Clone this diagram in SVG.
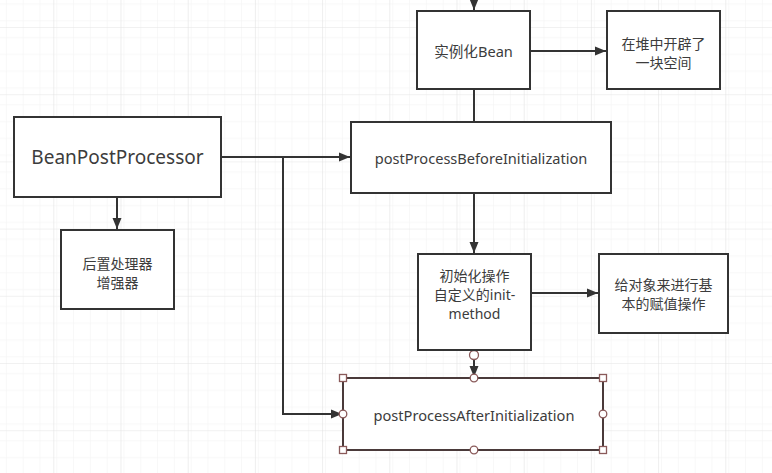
<svg xmlns="http://www.w3.org/2000/svg" width="772" height="473" viewBox="0 0 772 473">
  <style>
    .box { fill: #ffffff; stroke: #333333; stroke-width: 2; }
    .sel { fill: #ffffff; stroke: #4a3a3a; stroke-width: 2; }
    .edge { fill: none; stroke: #333333; stroke-width: 2; }
    .t { font-family: "Noto Sans", "Noto Sans CJK SC", sans-serif; font-size: 14px; fill: #3c3c3c; text-anchor: middle; dominant-baseline: central; }
    .w { font-size: 14.6px; }
    .big { font-size: 19px; }
    .hsq { fill: #ffffff; stroke: #8a5a5a; stroke-width: 1.3; }
    .hci { fill: #ffffff; stroke: #8a5a5a; stroke-width: 1.3; }
  </style>
  <defs>
    <pattern id="minor" width="16.8" height="16.8" patternUnits="userSpaceOnUse" x="-13.9" y="-40.2">
      <path d="M 16.8 0 L 0 0 0 16.8" fill="none" stroke="#f1f1f1" stroke-width="1"/>
    </pattern>
    <pattern id="major" width="67.2" height="67.2" patternUnits="userSpaceOnUse" x="-13.9" y="-40.2">
      <rect width="67.2" height="67.2" fill="url(#minor)"/>
      <path d="M 67.2 0 L 0 0 0 67.2" fill="none" stroke="#e3e3e3" stroke-width="1.2"/>
    </pattern>
    <marker id="arr" markerWidth="12" markerHeight="10" refX="11" refY="5" orient="auto" markerUnits="userSpaceOnUse">
      <path d="M0,0.5 L11,5 L0,9.5 Z" fill="#333333"/>
    </marker>
  </defs>
  <rect width="772" height="473" fill="#ffffff"/>
  <rect width="772" height="473" fill="url(#major)"/>

  <g id="connectors">
    <path class="edge" d="M474,0 L474,10" marker-end="url(#arr)"/>
    <path class="edge" d="M530,51 L606,51" marker-end="url(#arr)"/>
    <path class="edge" d="M474,89 L474,122"/>
    <path class="edge" d="M221,157 L350,157" marker-end="url(#arr)"/>
    <path class="edge" d="M117,197 L117,229" marker-end="url(#arr)"/>
    <path class="edge" d="M283,157 L283,414 L342,414" marker-end="url(#arr)"/>
    <path class="edge" d="M474,193 L474,253" marker-end="url(#arr)"/>
    <path class="edge" d="M531,293 L598,293" marker-end="url(#arr)"/>
    <path class="edge" d="M474,350 L474,377" marker-end="url(#arr)"/>
    <circle class="hci" cx="474" cy="355" r="4.5"/>
  </g>

  <g id="node-instantiate">
    <rect class="box" x="417" y="11" width="113" height="78"/>
    <text class="t w" x="473.5" y="51">实例化Bean</text>
  </g>

  <g id="node-heap">
    <rect class="box" x="607" y="11" width="113" height="78"/>
    <text class="t" x="663.5" y="43">在堆中开辟了</text>
    <text class="t" x="663.5" y="62">一块空间</text>
  </g>

  <g id="node-bpp">
    <rect class="box" x="14" y="117" width="207" height="80"/>
    <text class="t big" x="117.5" y="157">BeanPostProcessor</text>
  </g>

  <g id="node-enhancer">
    <rect class="box" x="61" y="230" width="113" height="79"/>
    <text class="t" x="117.5" y="263">后置处理器</text>
    <text class="t" x="117.5" y="282">增强器</text>
  </g>

  <g id="node-before">
    <rect class="box" x="351" y="122" width="260" height="71"/>
    <text class="t w" x="481" y="158">postProcessBeforeInitialization</text>
  </g>

  <g id="node-init">
    <rect class="box" x="418" y="254" width="113" height="96"/>
    <text class="t" x="474.5" y="275">初始化操作</text>
    <text class="t" x="474.5" y="294">自定义的init-</text>
    <text class="t" x="474.5" y="313">method</text>
  </g>

  <g id="node-assign">
    <rect class="box" x="599" y="254" width="129" height="79"/>
    <text class="t" x="663.5" y="284.5">给对象来进行基</text>
    <text class="t" x="663.5" y="303.5">本的赋值操作</text>
  </g>

  <g id="node-after">
    <rect class="sel" x="343" y="378" width="260" height="72"/>
    <text class="t w" x="474" y="415">postProcessAfterInitialization</text>
    <rect class="hsq" x="339.5" y="374.5" width="7" height="7"/>
    <rect class="hsq" x="599.5" y="374.5" width="7" height="7"/>
    <rect class="hsq" x="339.5" y="446.5" width="7" height="7"/>
    <rect class="hsq" x="599.5" y="446.5" width="7" height="7"/>
    <circle class="hci" cx="474" cy="378" r="3.8"/>
    <circle class="hci" cx="474" cy="450" r="3.8"/>
    <circle class="hci" cx="343" cy="414" r="3.8"/>
    <circle class="hci" cx="603" cy="414" r="3.8"/>
  </g>
</svg>
